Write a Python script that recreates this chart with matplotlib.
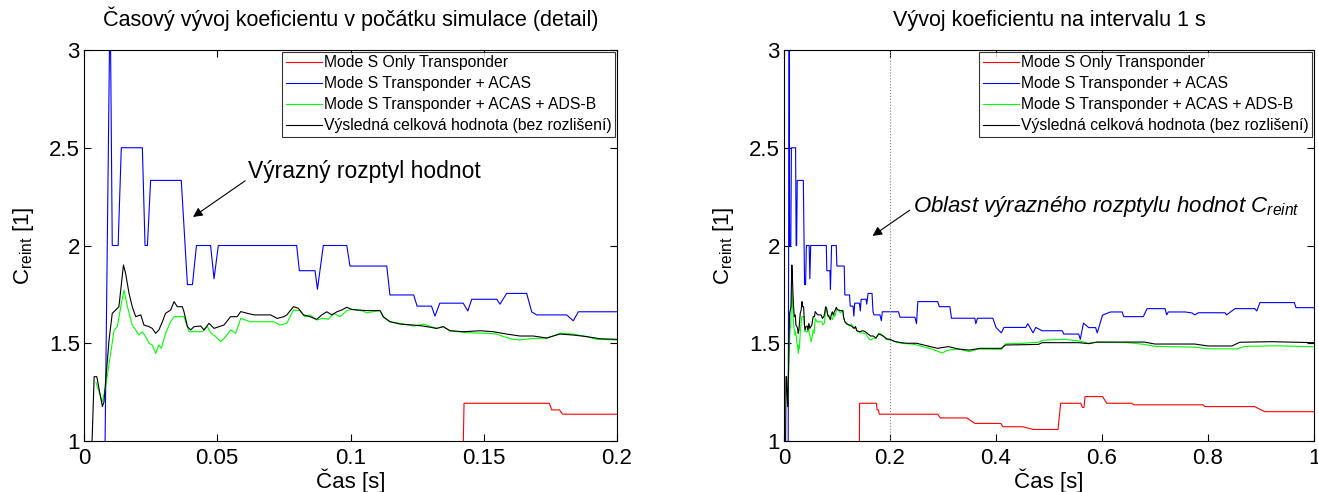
import numpy as np
import matplotlib
matplotlib.use("Agg")
import matplotlib.pyplot as plt

plt.rcParams['font.family'] = ['Liberation Sans', 'DejaVu Sans']
plt.rcParams['mathtext.fontset'] = 'custom'
plt.rcParams['mathtext.rm'] = 'Liberation Sans'
plt.rcParams['mathtext.it'] = 'Liberation Sans:italic'

# Mode S Only Transponder (red)
t_red = [0.1410, 0.1426, 0.1746, 0.1755, 0.1784, 0.1796, 0.290, 0.295, 0.345, 0.360, 0.409,
         0.413, 0.450, 0.470, 0.517, 0.522, 0.560, 0.563, 0.566, 0.568, 0.601, 0.609, 0.656,
         0.660, 0.791, 0.794, 0.888, 0.907, 1.0]
v_red = [0.0, 1.193, 1.193, 1.159, 1.159, 1.137, 1.137, 1.118, 1.118, 1.090, 1.090,
         1.073, 1.073, 1.059, 1.059, 1.193, 1.193, 1.172, 1.172, 1.227, 1.227, 1.193, 1.193,
         1.185, 1.185, 1.176, 1.176, 1.150, 1.150]

# Mode S Transponder + ACAS (blue)
t_blue = [0.0075, 0.0098, 0.0106, 0.0128, 0.0140, 0.0219, 0.0229, 0.0238, 0.0250, 0.0365,
          0.0388, 0.0407, 0.0422, 0.0475, 0.0488, 0.0504, 0.0798, 0.0808, 0.0867, 0.0876,
          0.0898, 0.0986, 0.0998, 0.1136, 0.1148, 0.1237, 0.1250, 0.1304, 0.1317, 0.1335,
          0.1423, 0.1440, 0.1455, 0.1549, 0.1561, 0.1586, 0.1661, 0.1680, 0.1699, 0.1811,
          0.1836, 0.1855, 0.216, 0.219, 0.247, 0.250, 0.2525, 0.290, 0.293, 0.313, 0.316,
          0.360, 0.362, 0.365, 0.394, 0.400, 0.410, 0.415, 0.456, 0.460, 0.470, 0.475,
          0.487, 0.525, 0.528, 0.556, 0.559, 0.565, 0.575, 0.588, 0.591, 0.601, 0.616,
          0.638, 0.641, 0.678, 0.685, 0.719, 0.722, 0.725, 0.757, 0.770, 0.775, 0.782,
          0.832, 0.835, 0.851, 0.888, 0.892, 0.898, 0.963, 0.966, 1.0]
v_blue = [0.5, 3.3, 2.0, 2.0, 2.5, 2.5, 2.0, 2.0, 2.333, 2.333,
          1.80, 1.80, 2.0, 2.0, 1.83, 2.0, 2.0, 1.871, 1.871, 1.776,
          2.0, 2.0, 1.895, 1.895, 1.747, 1.747, 1.69, 1.69, 1.639, 1.705,
          1.705, 1.665, 1.725, 1.725, 1.70, 1.755, 1.755, 1.66, 1.645, 1.645,
          1.615, 1.661, 1.661, 1.633, 1.633, 1.60, 1.713, 1.713, 1.687, 1.687, 1.628,
          1.628, 1.60, 1.628, 1.628, 1.581, 1.553, 1.581, 1.581, 1.60, 1.553, 1.581,
          1.564, 1.564, 1.547, 1.547, 1.52, 1.603, 1.58, 1.58, 1.553, 1.644, 1.660,
          1.660, 1.636, 1.636, 1.677, 1.677, 1.645, 1.660, 1.660, 1.655, 1.645, 1.656,
          1.656, 1.645, 1.677, 1.677, 1.665, 1.708, 1.708, 1.682, 1.682]

# Mode S Transponder + ACAS + ADS-B (green)
t_green = [0.0045, 0.0050, 0.0069, 0.0081, 0.0100, 0.0113, 0.0125, 0.0138, 0.0150, 0.0163,
           0.0181, 0.0194, 0.0206, 0.0219, 0.0231, 0.0244, 0.0256, 0.0269, 0.0281, 0.0290,
           0.0306, 0.0325, 0.0338, 0.0375, 0.0394, 0.0444, 0.0463, 0.0475, 0.0494, 0.0513,
           0.0532, 0.0550, 0.0569, 0.0588, 0.0625, 0.0713, 0.0735, 0.0761, 0.0786, 0.0811,
           0.0829, 0.0848, 0.0873, 0.0898, 0.0917, 0.0936, 0.0961, 0.0986, 0.1005, 0.1036,
           0.1061, 0.1111, 0.1123, 0.1148, 0.1186, 0.1236, 0.1273, 0.1323, 0.1348, 0.1373,
           0.1436, 0.1511, 0.1549, 0.1574, 0.1611, 0.1636, 0.1686, 0.1736, 0.1786, 0.1836,
           0.1886, 0.1924, 0.1999, 0.22, 0.245, 0.265, 0.28, 0.298, 0.31, 0.33, 0.35, 0.365,
           0.41, 0.418, 0.45, 0.48, 0.49, 0.53, 0.556, 0.575, 0.59, 0.65, 0.68, 0.70, 0.775,
           0.80, 0.855, 0.87, 0.93, 1.0]
v_green = [1.300, 1.278, 1.200, 1.278, 1.448, 1.568, 1.585, 1.687, 1.772, 1.687,
           1.593, 1.568, 1.542, 1.559, 1.534, 1.500, 1.491, 1.448, 1.491, 1.474,
           1.551, 1.610, 1.636, 1.636, 1.559, 1.559, 1.585, 1.554, 1.534, 1.508,
           1.534, 1.568, 1.551, 1.627, 1.610, 1.610, 1.593, 1.602, 1.670, 1.667,
           1.636, 1.645, 1.619, 1.628, 1.622, 1.653, 1.636, 1.667, 1.673, 1.670,
           1.656, 1.667, 1.633, 1.610, 1.602, 1.588, 1.598, 1.576, 1.585, 1.564,
           1.554, 1.551, 1.547, 1.534, 1.520, 1.517, 1.525, 1.525, 1.551, 1.547,
           1.534, 1.520, 1.517, 1.500, 1.495, 1.480, 1.470, 1.450, 1.465, 1.470, 1.457, 1.470,
           1.469, 1.497, 1.500, 1.505, 1.516, 1.520, 1.512, 1.500, 1.505, 1.503, 1.494, 1.484, 1.480,
           1.472, 1.471, 1.484, 1.487, 1.482]

# Výsledná celková hodnota (black)
t_black = [0.0028, 0.0038, 0.0048, 0.0069, 0.0075, 0.0094, 0.0106, 0.0119, 0.0131, 0.0148,
           0.0156, 0.0169, 0.0181, 0.0194, 0.0213, 0.0225, 0.0244, 0.0256, 0.0269, 0.0281,
           0.0294, 0.0306, 0.0325, 0.0338, 0.0350, 0.0369, 0.0375, 0.0388, 0.0400, 0.0413,
           0.0438, 0.0450, 0.0469, 0.0488, 0.0507, 0.0525, 0.0550, 0.0575, 0.0588, 0.0613,
           0.0638, 0.0700, 0.0725, 0.0750, 0.0761, 0.0786, 0.0804, 0.0823, 0.0848, 0.0873,
           0.0892, 0.0911, 0.0930, 0.0949, 0.0967, 0.0986, 0.1005, 0.1023, 0.1061, 0.1111,
           0.1123, 0.1148, 0.1186, 0.1236, 0.1273, 0.1323, 0.1348, 0.1373, 0.1424, 0.1486,
           0.1536, 0.1586, 0.1636, 0.1686, 0.1736, 0.1786, 0.1836, 0.1886, 0.1936, 0.1999,
           0.21, 0.23, 0.25, 0.265, 0.29, 0.31, 0.33, 0.35, 0.37, 0.41, 0.418, 0.48, 0.487,
           0.556, 0.575, 0.59, 0.68, 0.70, 0.775, 0.80, 0.845, 0.86, 0.92, 1.0]
v_black = [0.900, 1.329, 1.329, 1.176, 1.200, 1.517, 1.653, 1.670, 1.687, 1.900,
           1.858, 1.755, 1.687, 1.636, 1.645, 1.593, 1.585, 1.576, 1.551, 1.568,
           1.610, 1.653, 1.670, 1.713, 1.687, 1.687, 1.662, 1.585, 1.568, 1.585,
           1.588, 1.568, 1.602, 1.576, 1.585, 1.593, 1.636, 1.636, 1.662, 1.653,
           1.645, 1.645, 1.627, 1.636, 1.645, 1.687, 1.679, 1.645, 1.636, 1.622,
           1.645, 1.661, 1.645, 1.661, 1.670, 1.684, 1.673, 1.670, 1.667, 1.667,
           1.636, 1.610, 1.598, 1.593, 1.588, 1.576, 1.585, 1.564, 1.559, 1.564,
           1.559, 1.547, 1.537, 1.537, 1.527, 1.547, 1.542, 1.534, 1.523, 1.520,
           1.508, 1.500, 1.500, 1.490, 1.474, 1.483, 1.470, 1.465, 1.474, 1.474, 1.491, 1.494, 1.503,
           1.503, 1.498, 1.506, 1.506, 1.496, 1.496, 1.486, 1.486, 1.505, 1.508, 1.503]

labels = ["Mode S Only Transponder", "Mode S Transponder + ACAS",
          "Mode S Transponder + ACAS + ADS-B", "Výsledná celková hodnota (bez rozlišení)"]

fig = plt.figure(figsize=(13.18, 4.92), dpi=100)
ax1 = fig.add_axes([84 / 1318, 51 / 492, 533 / 1318, 391 / 492])
ax2 = fig.add_axes([784 / 1318, 51 / 492, 530 / 1318, 391 / 492])

for ax in (ax1, ax2):
    ax.plot(t_red, v_red, color='#ff0000', lw=0.8, label=labels[0])
    ax.plot(t_blue, v_blue, color='#0000ff', lw=0.8, label=labels[1])
    ax.plot(t_green, v_green, color='#00ff00', lw=0.8, label=labels[2])
    ax.plot(t_black, v_black, color='black', lw=0.8, label=labels[3])
    ax.set_ylim(1, 3)
    ax.set_yticks([1, 1.5, 2, 2.5, 3])
    ax.set_yticklabels(['1', '1.5', '2', '2.5', '3'])
    ax.tick_params(direction='in', top=True, right=True, length=5, labelsize=16)
    ax.tick_params(axis='x', pad=5)
    ax.tick_params(axis='y', pad=3)
    ax.set_ylabel('C$_{\\mathrm{reint}}$ [1]', fontsize=16, labelpad=9)
    ax.set_xlabel('Čas [s]', fontsize=16, labelpad=0)
    for s in ax.spines.values():
        s.set_linewidth(0.8)
    leg = ax.legend(loc='upper right', fontsize=11.3, frameon=True, fancybox=False,
                    edgecolor='black', borderpad=0.25, labelspacing=0.38,
                    handlelength=2.3, handletextpad=0.1, borderaxespad=0.1)
    leg.get_frame().set_linewidth(0.8)

ax1.set_xlim(0, 0.2)
ax1.set_xticks([0, 0.05, 0.1, 0.15, 0.2])
ax1.set_xticklabels(['0', '0.05', '0.1', '0.15', '0.2'])
ax1.set_title('Časový vývoj koeficientu v počátku simulace (detail)', fontsize=15.5, pad=17)
ax1.annotate('Výrazný rozptyl hodnot', xy=(0.0409, 2.146), xytext=(0.0615, 2.376),
             fontsize=16.5, va='center', ha='left',
             arrowprops=dict(arrowstyle='-|>', color='black', lw=0.8,
                             shrinkA=0, shrinkB=0, mutation_scale=14, relpos=(0, 0.2)))

ax2.set_xlim(0, 1)
ax2.set_xticks([0, 0.2, 0.4, 0.6, 0.8, 1])
ax2.set_xticklabels(['0', '0.2', '0.4', '0.6', '0.8', '1'])
ax2.axvline(0.2, color='gray', ls=':', lw=0.8)
ax2.set_title('Vývoj koeficientu na intervalu 1 s', fontsize=15.5, pad=17)
ax2.annotate('Oblast výrazného rozptylu hodnot C$_{reint}$', xy=(0.167, 2.049),
             xytext=(0.2425, 2.197), fontsize=16, style='italic', va='center', ha='left',
             arrowprops=dict(arrowstyle='-|>', color='black', lw=0.8,
                             shrinkA=0, shrinkB=0, mutation_scale=14, relpos=(0, 0.45)))

fig.savefig('out.png', dpi=100)
